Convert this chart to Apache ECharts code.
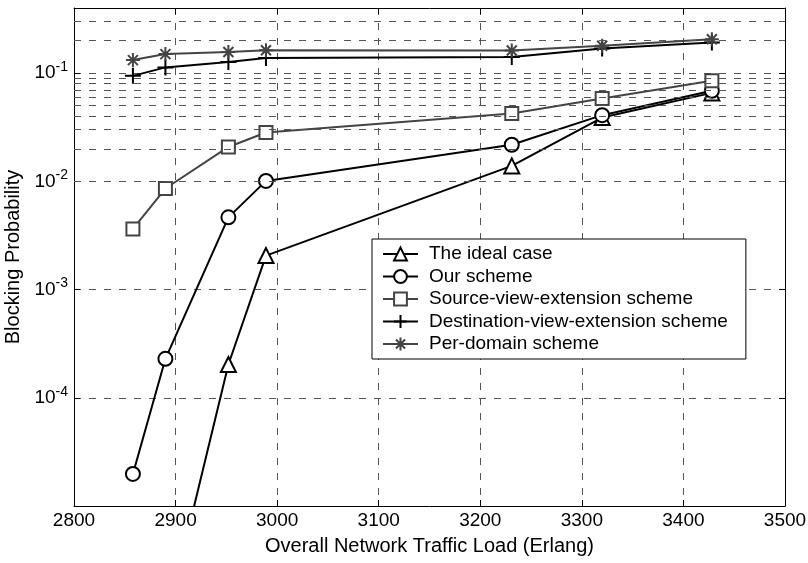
<!DOCTYPE html>
<html>
<head>
<meta charset="utf-8">
<title>Blocking Probability</title>
<script src="https://cdn.jsdelivr.net/npm/echarts@6/dist/echarts.min.js"></script>
<style>
  html, body { margin: 0; padding: 0; background: #fff; }
  #chart { width: 808px; height: 563px; }
</style>
</head>
<body>
<div id="chart"></div>
<script>
// traffic load (Erlang) at each simulated point
var loads = [2858, 2890, 2952, 2989, 3231, 3320, 3428];
// blocking probability of each scheme
var idealCase = [null, 8.0e-7, 2.03e-4, 2.06e-3, 0.0139, 0.0389, 0.0657];
var ourScheme = [1.98e-5, 2.29e-4, 4.65e-3, 0.0101, 0.0218, 0.0409, 0.0687];
var sourceView = [3.63e-3, 8.59e-3, 0.0208, 0.0283, 0.0423, 0.0583, 0.0849];
var destView = [0.0944, 0.113, 0.127, 0.138, 0.141, 0.169, 0.192];
var perDomain = [0.132, 0.150, 0.157, 0.163, 0.162, 0.179, 0.206];

// axis ticks
var xTicks = [2800, 2900, 3000, 3100, 3200, 3300, 3400, 3500];
var yLabelExps = [-4, -3, -2, -1];
var yMin = 1e-5, yMax = 0.4;

var FONT = 'Liberation Sans';

function pairs(ys) {
  return loads.map(function (x, i) { return [x, ys[i]]; });
}

// minor log grid lines (2..9 x 10^d)
var minorLines = [];
for (var d = -5; d <= -1; d++) {
  for (var k = 2; k <= 9; k++) {
    var v = k * Math.pow(10, d);
    if (v < yMax) minorLines.push({ yAxis: v });
  }
}

var gridDash = [7, 8];
var gridColor = '#555';

var plusPath = 'path://M7,0L7,14M0,7L14,7';
var starPath = 'path://M7,0L7,14M0,7L14,7M2,2L12,12M12,2L2,12';

function lineSeries(name, ys, color, symbol, size, fill) {
  return {
    name: name,
    type: 'line',
    data: pairs(ys),
    symbol: symbol,
    symbolSize: size,
    z: 3,
    lineStyle: { color: color, width: 2, type: 'solid' },
    itemStyle: {
      color: fill,
      borderColor: color,
      borderWidth: 2
    }
  };
}

var chart = echarts.init(document.getElementById('chart'));
var option = {
  animation: false,
  backgroundColor: '#fff',
  textStyle: { fontFamily: FONT },
  grid: { left: 74, right: 23, top: 8, bottom: 57, outerBoundsMode: 'none' },
  legend: {
    orient: 'vertical',
    left: 372,
    top: 239,
    padding: [5, 18, 5, 10],
    itemGap: 2.5,
    itemWidth: 35,
    itemHeight: 16,
    backgroundColor: '#fff',
    borderColor: '#000',
    borderWidth: 1,
    borderRadius: 0,
    textStyle: { fontFamily: FONT, fontSize: 19, color: '#000', lineHeight: 20, padding: [0, 0, 0, 6] },
    data: ['The ideal case', 'Our scheme', 'Source-view-extension scheme',
      'Destination-view-extension scheme', 'Per-domain scheme']
  },
  xAxis: [{
    type: 'value',
    min: xTicks[0],
    max: xTicks[xTicks.length - 1],
    interval: 100,
    name: 'Overall Network Traffic Load (Erlang)',
    nameLocation: 'middle',
    nameGap: 30,
    nameTextStyle: { fontFamily: FONT, fontSize: 20, color: '#000' },
    axisLine: { lineStyle: { color: '#000', width: 1 } },
    axisTick: { inside: true, length: 6, lineStyle: { color: '#000' } },
    axisLabel: {
      fontFamily: FONT, fontSize: 19, color: '#000', margin: 5,
      formatter: function (val) { return String(val); }
    },
    splitLine: { show: true, lineStyle: { color: gridColor, type: gridDash, width: 1 } }
  }, {
    type: 'value',
    position: 'top',
    min: xTicks[0],
    max: xTicks[xTicks.length - 1],
    interval: 100,
    axisLine: { lineStyle: { color: '#000', width: 1 } },
    axisTick: { inside: true, length: 6, lineStyle: { color: '#000' } },
    axisLabel: { show: false },
    splitLine: { show: false }
  }],
  yAxis: [{
    type: 'log',
    logBase: 10,
    min: yMin,
    max: yMax,
    name: 'Blocking Probability',
    nameLocation: 'middle',
    nameGap: 41,
    nameTextStyle: { fontFamily: FONT, fontSize: 20, color: '#000' },
    axisLine: { show: true, lineStyle: { color: '#000', width: 1 } },
    axisTick: { inside: true, length: 6, lineStyle: { color: '#000' } },
    axisLabel: {
      margin: 6,
      formatter: function (val) {
        var e = Math.round(Math.log(val) / Math.LN10);
        if (Math.abs(val / Math.pow(10, e) - 1) > 1e-6) return '';
        if (yLabelExps.indexOf(e) < 0) return '';
        return '{b|10}{e|' + e + '}';
      },
      rich: {
        b: { fontFamily: FONT, fontSize: 19, color: '#000', lineHeight: 26 },
        e: { fontFamily: FONT, fontSize: 14, color: '#000', lineHeight: 14, verticalAlign: 'top' }
      }
    },
    splitLine: { show: true, lineStyle: { color: gridColor, type: gridDash, width: 1 } }
  }, {
    type: 'log',
    logBase: 10,
    position: 'right',
    min: yMin,
    max: yMax,
    axisLine: { show: true, lineStyle: { color: '#000', width: 1 } },
    axisTick: { inside: true, length: 6, lineStyle: { color: '#000' } },
    axisLabel: { show: false },
    splitLine: { show: false }
  }],
  series: [
    {
      name: 'grid-minor',
      type: 'line',
      data: [],
      z: 1,
      silent: true,
      markLine: {
        silent: true,
        symbol: ['none', 'none'],
        label: { show: false },
        lineStyle: { color: gridColor, type: gridDash, width: 1 },
        emphasis: { disabled: true },
        data: minorLines
      }
    },
    lineSeries('The ideal case', idealCase, '#000', 'triangle', 15, '#fff'),
    lineSeries('Our scheme', ourScheme, '#000', 'circle', 14, '#fff'),
    lineSeries('Source-view-extension scheme', sourceView, '#444', 'rect', 13, '#fff'),
    lineSeries('Destination-view-extension scheme', destView, '#000', plusPath, 16, '#000'),
    lineSeries('Per-domain scheme', perDomain, '#444', starPath, 14, '#444')
  ]
};
chart.setOption(option);
</script>
</body>
</html>
